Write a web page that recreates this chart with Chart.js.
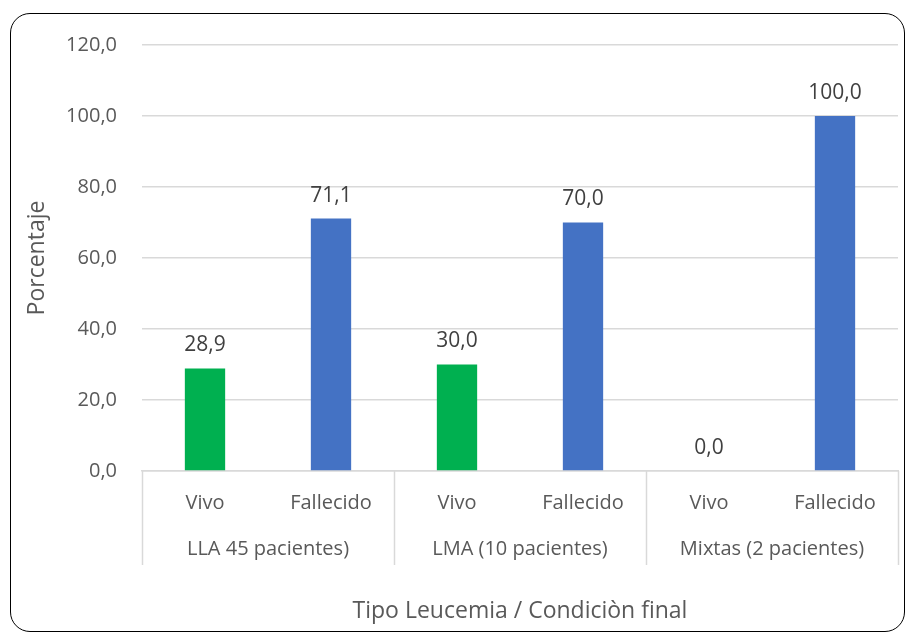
<!DOCTYPE html>
<html>
<head>
<meta charset="utf-8">
<script src="https://cdn.jsdelivr.net/npm/chart.js@4"></script>
<style>
  body { margin: 0; background: #fff; }
  .box {
    position: absolute; left: 10px; top: 13px; width: 893px; height: 617px;
    border: 1.5px solid #000; border-radius: 20px; background: #fff;
  }
  .box canvas { position: absolute; left: 0; top: 0; }
</style>
</head>
<body>
<div class="box"><canvas id="chart" width="893" height="617"></canvas></div>
<script>
const categories = ['Vivo', 'Fallecido', 'Vivo', 'Fallecido', 'Vivo', 'Fallecido'];
const groups = ['LLA 45 pacientes)', 'LMA (10 pacientes)', 'Mixtas (2 pacientes)'];
const porcentajes = [28.9, 71.1, 30.0, 70.0, 0.0, 100.0];
const barColors = ['#00B050', '#4472C4', '#00B050', '#4472C4', '#00B050', '#4472C4'];
const yMax = 120;
const yStep = 20;

const FONT = 'Open Sans, Liberation Sans, sans-serif';
const fmt = v => Number(v).toFixed(1).replace('.', ',');

// valores encima de las barras
const valueLabels = {
  id: 'valueLabels',
  afterDatasetsDraw(chart) {
    const ctx = chart.ctx;
    const meta = chart.getDatasetMeta(0);
    ctx.save();
    ctx.font = '21px ' + FONT;
    ctx.fillStyle = '#404040';
    ctx.textAlign = 'center';
    ctx.textBaseline = 'middle';
    meta.data.forEach((bar, i) => {
      ctx.fillText(fmt(porcentajes[i]), bar.x, bar.y - 23);
    });
    ctx.restore();
  }
};

// lineas separadoras de los grupos
const groupLines = {
  id: 'groupLines',
  afterDraw(chart) {
    const ctx = chart.ctx;
    const x = chart.scales.x;
    const area = chart.chartArea;
    const xs = [area.left];
    for (let i = 1; i < groups.length; i++) {
      xs.push((x.getPixelForValue(i * 2 - 1) + x.getPixelForValue(i * 2)) / 2);
    }
    xs.push(area.right);
    ctx.save();
    ctx.strokeStyle = '#D9D9D9';
    ctx.lineWidth = 1.5;
    xs.forEach(px => {
      ctx.beginPath();
      ctx.moveTo(Math.round(px) + 0.5, area.bottom);
      ctx.lineTo(Math.round(px) + 0.5, area.bottom + 94);
      ctx.stroke();
    });
    ctx.restore();
  }
};

new Chart(document.getElementById('chart'), {
  type: 'bar',
  data: {
    labels: categories,
    datasets: [{
      data: porcentajes,
      backgroundColor: barColors,
      barPercentage: 0.32,
      categoryPercentage: 1
    }]
  },
  options: {
    responsive: false,
    animation: false,
    layout: { padding: { top: 31, right: 6, left: 0, bottom: 0 } },
    plugins: { legend: { display: false }, tooltip: { enabled: false } },
    scales: {
      y: {
        min: 0,
        max: yMax,
        ticks: { stepSize: yStep, callback: v => fmt(v), font: { size: 20, family: FONT }, color: '#595959', padding: 25 },
        grid: { color: '#D9D9D9', lineWidth: 1.5, drawTicks: false },
        border: { display: false },
        title: { display: true, text: 'Porcentaje', font: { size: 23, family: FONT }, color: '#595959', padding: { top: 13, bottom: 0 } },
        afterFit: s => { s.width = 131; s.paddingTop = 0; s.paddingBottom = 0; }
      },
      x: {
        offset: true,
        ticks: { font: { size: 20, family: FONT }, color: '#595959', padding: 20 },
        grid: { display: false, drawTicks: false },
        border: { color: '#D9D9D9', width: 1.5 },
        afterFit: s => { s.height = 55; }
      },
      x2: {
        type: 'category',
        position: 'bottom',
        labels: groups,
        offset: true,
        ticks: { font: { size: 20, family: FONT }, color: '#595959', padding: 11 },
        grid: { display: false, drawTicks: false },
        border: { display: false },
        title: { display: true, text: 'Tipo Leucemia / Condiciòn final', font: { size: 23, family: FONT }, color: '#595959', padding: { top: 4, bottom: 6 } },
        afterFit: s => { s.height = 105; }
      }
    }
  },
  plugins: [valueLabels, groupLines]
});
</script>
</body>
</html>
